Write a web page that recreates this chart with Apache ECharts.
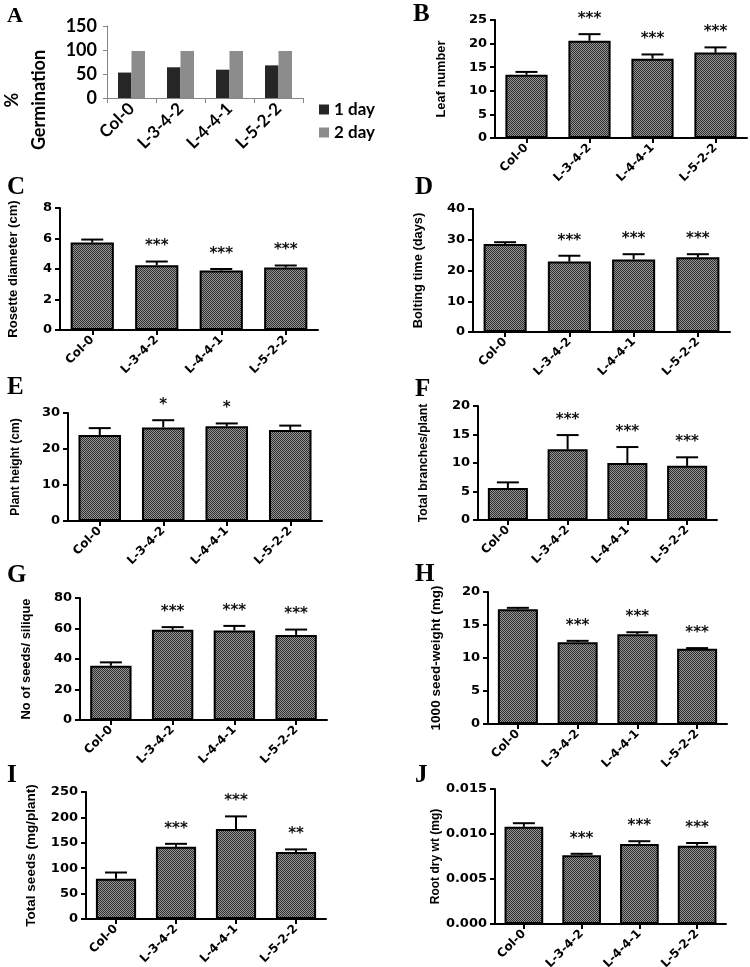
<!DOCTYPE html>
<html><head><meta charset="utf-8">
<script src="https://cdn.jsdelivr.net/npm/echarts@6/dist/echarts.min.js"></script>
<style>html,body{margin:0;padding:0;background:#fff}#c{width:750px;height:967px}</style>
</head><body><div id="c"></div>
<script>
// ---------- DATA ----------
const categories = ['Col-0', 'L-3-4-2', 'L-4-4-1', 'L-5-2-2'];
const germDay1 = [53, 64, 59, 68];
const germDay2 = [98, 98, 98, 98];

const leafMean = [13.4, 20.6, 16.8, 18.1];
const leafSE = [0.6, 1.4, 0.9, 1.1];
const leafSig = ['', '***', '***', '***'];

const rosetteMean = [5.73, 4.25, 3.9, 4.1];
const rosetteSE = [0.2, 0.24, 0.1, 0.13];
const rosetteSig = ['', '***', '***', '***'];

const boltMean = [28.6, 22.9, 23.6, 24.3];
const boltSE = [0.6, 1.9, 1.7, 1.0];
const boltSig = ['', '***', '***', '***'];

const heightMean = [23.9, 26.0, 26.3, 25.3];
const heightSE = [1.9, 2.0, 0.8, 1.2];
const heightSig = ['', '*', '*', ''];

const branchMean = [5.6, 12.4, 10.0, 9.5];
const branchSE = [1.0, 2.5, 2.8, 1.5];
const branchSig = ['', '***', '***', '***'];

const seedsMean = [35.6, 59.1, 58.7, 55.8];
const seedsSE = [2.2, 1.8, 3.0, 3.5];
const seedsSig = ['', '***', '***', '***'];

const seedWtMean = [17.4, 12.4, 13.6, 11.4];
const seedWtSE = [0.2, 0.2, 0.3, 0.1];
const seedWtSig = ['', '***', '***', '***'];

const totalMean = [79, 142, 177, 132];
const totalSE = [12.5, 6, 25, 5];
const totalSig = ['', '***', '***', '**'];

const rootMean = [0.0108, 0.00765, 0.0089, 0.0087];
const rootSE = [0.0004, 0.00015, 0.0003, 0.0003];
const rootSig = ['', '***', '***', '***'];

// ---------- STYLE / LAYOUT ----------
function makePattern() {
  const c = document.createElement('canvas'); c.width = 4; c.height = 4;
  const g = c.getContext('2d');
  g.fillStyle = '#959595'; g.fillRect(0, 0, 4, 4);
  g.fillStyle = '#2e2e2e';
  for (let y = 0; y < 4; y++) for (let x = 0; x < 4; x++) if ((x + y) % 2 === 0) g.fillRect(x, y, 1, 1);
  return c;
}
const pat = makePattern();

const prismFont = 'DejaVu Sans';
const nameFont = "'Liberation Sans Narrow', 'Liberation Sans', sans-serif";
const mctx = document.createElement('canvas').getContext('2d');
function fitSize(text, len) {
  mctx.font = "bold 14px " + nameFont;
  const w = mctx.measureText(text).width;
  return Math.max(12, Math.min(13.5, 14 * len * 1.1 / w));
}

const panels = [
  {grid: {left: 495, top: 20, width: 252, height: 118}, max: 25, interval: 5, name: 'Leaf number', len: 70, gap: 47, mean: leafMean, se: leafSE, sig: leafSig},
  {grid: {left: 60, top: 208, width: 258, height: 122}, max: 8, interval: 2, name: 'Rosette diameter (cm)', len: 125, gap: 40, mean: rosetteMean, se: rosetteSE, sig: rosetteSig},
  {grid: {left: 473, top: 209, width: 257, height: 123}, max: 40, interval: 10, name: 'Bolting time (days)', len: 105, gap: 48, mean: boltMean, se: boltSE, sig: boltSig},
  {grid: {left: 68, top: 413, width: 254, height: 108}, max: 30, interval: 10, name: 'Plant height (cm)', len: 83, gap: 46, mean: heightMean, se: heightSE, sig: heightSig},
  {grid: {left: 478, top: 406, width: 239, height: 114}, max: 20, interval: 5, name: 'Total branches/plant', len: 108, gap: 48, mean: branchMean, se: branchSE, sig: branchSig},
  {grid: {left: 80, top: 598, width: 247, height: 122}, max: 80, interval: 20, name: 'No of seeds/ silique', len: 110, gap: 47, mean: seedsMean, se: seedsSE, sig: seedsSig},
  {grid: {left: 488, top: 592, width: 239, height: 132}, max: 20, interval: 5, name: '1000 seed-weight (mg)', len: 137, gap: 45, mean: seedWtMean, se: seedWtSE, sig: seedWtSig},
  {grid: {left: 86, top: 792, width: 240, height: 127}, max: 250, interval: 50, name: 'Total seeds (mg/plant)', len: 130, gap: 48, mean: totalMean, se: totalSE, sig: totalSig},
  {grid: {left: 495, top: 789, width: 231, height: 135}, max: 0.015, interval: 0.005, name: 'Root dry wt (mg)', len: 87, gap: 50, mean: rootMean, se: rootSE, sig: rootSig, fmt: v => v.toFixed(3)}
];

const titles = [
  {t: 'A', x: 7, y: 5, s: 22}, {t: 'B', x: 413, y: 2, s: 25},
  {t: 'C', x: 7, y: 175, s: 25}, {t: 'D', x: 415, y: 175, s: 25},
  {t: 'E', x: 7, y: 375, s: 25}, {t: 'F', x: 415, y: 377, s: 25},
  {t: 'G', x: 7, y: 563, s: 25}, {t: 'H', x: 415, y: 562, s: 25},
  {t: 'I', x: 7, y: 763, s: 25}, {t: 'J', x: 415, y: 763, s: 25}
];

const grids = [{left: 107, top: 26, width: 196, height: 72, outerBoundsMode: 'none'}];
const xAxes = [{
  type: 'category', gridIndex: 0, data: categories,
  axisLine: {lineStyle: {color: '#868686', width: 1}},
  axisTick: {show: true, length: 5, lineStyle: {color: '#868686'}},
  axisLabel: {rotate: 45, margin: 8, interval: 0, fontFamily: 'Lato', fontWeight: 'bold', fontSize: 17, color: '#000'}
}];
const yAxes = [{
  type: 'value', gridIndex: 0, min: 0, max: 150, interval: 50,
  name: '%\nGermination', nameLocation: 'middle', nameGap: 54,
  nameTextStyle: {fontFamily: 'Lato', fontWeight: 'bold', fontSize: 18, color: '#000', lineHeight: 27, padding: [0, 76, 0, 0]},
  axisLine: {show: true, lineStyle: {color: '#868686', width: 1}},
  axisTick: {show: true, length: 4, lineStyle: {color: '#868686'}},
  axisLabel: {margin: 10, fontFamily: 'Lato', fontWeight: 'bold', fontSize: 18, color: '#000'},
  splitLine: {show: false}
}];
const series = [
  {name: '1 day', type: 'bar', xAxisIndex: 0, yAxisIndex: 0, data: germDay1, barGap: '0%', barCategoryGap: '45%', itemStyle: {color: '#262626'}, silent: true},
  {name: '2 day', type: 'bar', xAxisIndex: 0, yAxisIndex: 0, data: germDay2, barGap: '0%', barCategoryGap: '45%', itemStyle: {color: '#8c8c8c'}, silent: true}
];

panels.forEach((p, i) => {
  const idx = i + 1;
  grids.push(Object.assign({outerBoundsMode: 'none'}, p.grid));
  xAxes.push({
    type: 'category', gridIndex: idx, data: categories,
    axisLine: {lineStyle: {color: '#000', width: 2}},
    axisTick: {show: true, alignWithLabel: true, length: 5, lineStyle: {color: '#000', width: 2}},
    axisLabel: {rotate: 45, margin: 8, interval: 0, fontFamily: prismFont, fontWeight: 'bold', fontSize: 12, color: '#000'}
  });
  yAxes.push({
    type: 'value', gridIndex: idx, min: 0, max: p.max, interval: p.interval,
    name: p.name, nameLocation: 'middle', nameGap: p.gap,
    nameTextStyle: {fontFamily: nameFont, fontWeight: 'bold', fontSize: fitSize(p.name, p.len), color: '#000'},
    axisLine: {show: true, lineStyle: {color: '#000', width: 2}},
    axisTick: {show: true, length: 5, lineStyle: {color: '#000', width: 2}},
    axisLabel: {margin: 8, fontFamily: prismFont, fontWeight: 'bold', fontSize: 13, color: '#000', formatter: p.fmt},
    splitLine: {show: false}
  });
  series.push({
    type: 'bar', xAxisIndex: idx, yAxisIndex: idx, data: p.mean, barCategoryGap: '33%', silent: true,
    itemStyle: {color: {image: pat, repeat: 'repeat'}, borderColor: '#000', borderWidth: 2}
  });
  const sig = p.sig;
  series.push({
    type: 'custom', xAxisIndex: idx, yAxisIndex: idx, silent: true, clip: false, z: 5,
    data: p.mean.map((m, k) => [k, m, m + p.se[k]]),
    encode: {x: 0, y: [1, 2]},
    renderItem: function (params, api) {
      const x = api.value(0);
      const top = api.coord([x, api.value(1)]);
      const hi = api.coord([x, api.value(2)]);
      const ch = [
        {type: 'line', shape: {x1: top[0], y1: top[1], x2: hi[0], y2: hi[1]}, style: {stroke: '#000', lineWidth: 2}},
        {type: 'line', shape: {x1: hi[0] - 11, y1: hi[1], x2: hi[0] + 11, y2: hi[1]}, style: {stroke: '#000', lineWidth: 2}}
      ];
      const s = sig[params.dataIndex];
      if (s) ch.push({type: 'text', x: hi[0], y: hi[1] - 15, style: {text: s, align: 'center', verticalAlign: 'middle', fontFamily: prismFont, fontWeight: 'bold', fontSize: 15, fill: '#111'}});
      return {type: 'group', children: ch};
    }
  });
});

const chart = echarts.init(document.getElementById('c'), null, {renderer: 'canvas'});
chart.setOption({
  animation: false,
  backgroundColor: '#fff',
  grid: grids, xAxis: xAxes, yAxis: yAxes, series: series,
  legend: {
    data: ['1 day', '2 day'], orient: 'vertical', left: 314, top: 96,
    itemWidth: 10, itemHeight: 10, itemGap: 6, icon: 'rect', selectedMode: false,
    textStyle: {fontFamily: 'Lato', fontWeight: 'bold', fontSize: 17, color: '#000'}
  },
  graphic: titles.map(t => ({
    type: 'text', left: t.x, top: t.y, silent: true,
    style: {text: t.t, fontFamily: 'Liberation Serif', fontWeight: 'bold', fontSize: t.s, fill: '#000'}
  }))
});
</script>
</body></html>
